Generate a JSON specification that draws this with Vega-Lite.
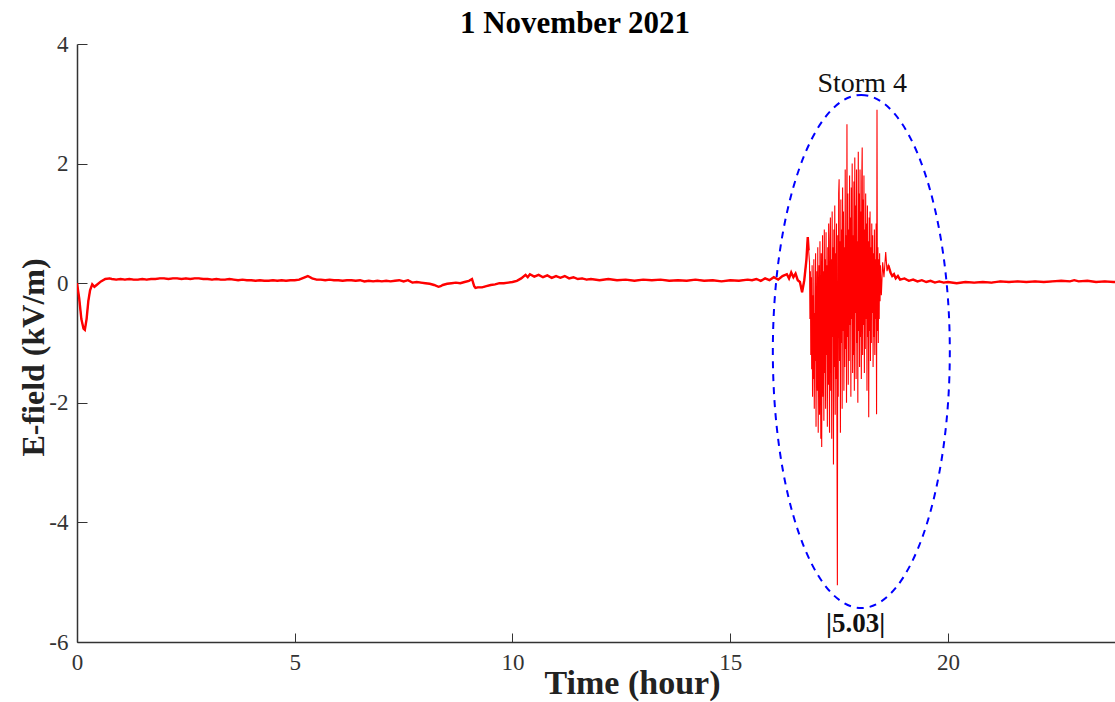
{
"$schema": "https://vega.github.io/schema/vega-lite/v6.json",
"width": 1038, "height": 598,
"autosize": "none",
"padding": {"left": 77, "top": 44, "right": 0, "bottom": 60},
"config": {"view": {"stroke": null}, "font": "Liberation Serif"},
"datasets": {
"sig": [
{"t":0,"v":0},{"t":0.05,"v":-0.25},{"t":0.1,"v":-0.6},{"t":0.15,"v":-0.76},{"t":0.18,"v":-0.78},{"t":0.22,"v":-0.6},{"t":0.26,"v":-0.3},{"t":0.3,"v":-0.12},{"t":0.35,"v":-0.02},{"t":0.4,"v":-0.06},{"t":0.45,"v":-0.03},{"t":0.55,"v":0.03},{"t":0.65,"v":0.07},{"t":0.75,"v":0.08},
{"t":0.8,"v":0.07},{"t":0.9,"v":0.06},{"t":1.0,"v":0.07},{"t":1.1,"v":0.06},{"t":1.2,"v":0.07},{"t":1.3,"v":0.06},{"t":1.4,"v":0.06},{"t":1.5,"v":0.07},{"t":1.6,"v":0.06},{"t":1.7,"v":0.07},{"t":1.8,"v":0.07},{"t":1.9,"v":0.08},{"t":2.0,"v":0.08},{"t":2.1,"v":0.07},{"t":2.2,"v":0.08},{"t":2.3,"v":0.08},{"t":2.4,"v":0.07},{"t":2.5,"v":0.08},{"t":2.6,"v":0.07},{"t":2.7,"v":0.08},{"t":2.8,"v":0.08},{"t":2.9,"v":0.07},{"t":3.0,"v":0.07},{"t":3.1,"v":0.06},{"t":3.2,"v":0.07},{"t":3.3,"v":0.06},{"t":3.4,"v":0.06},{"t":3.5,"v":0.07},{"t":3.6,"v":0.06},{"t":3.7,"v":0.05},{"t":3.8,"v":0.06},{"t":3.9,"v":0.05},{"t":4.0,"v":0.05},{"t":4.1,"v":0.04},{"t":4.2,"v":0.05},{"t":4.3,"v":0.04},{"t":4.4,"v":0.04},{"t":4.5,"v":0.05},{"t":4.6,"v":0.04},{"t":4.7,"v":0.05},{"t":4.8,"v":0.04},{"t":4.9,"v":0.05},{"t":5.0,"v":0.05},{"t":5.1,"v":0.06},{"t":5.2,"v":0.09},{"t":5.3,"v":0.12},{"t":5.4,"v":0.08},{"t":5.5,"v":0.06},{"t":5.6,"v":0.06},{"t":5.7,"v":0.05},{"t":5.8,"v":0.06},{"t":5.9,"v":0.05},{"t":6.0,"v":0.05},{"t":6.1,"v":0.04},{"t":6.2,"v":0.05},{"t":6.3,"v":0.05},{"t":6.4,"v":0.04},{"t":6.5,"v":0.05},{"t":6.6,"v":0.03},{"t":6.7,"v":0.04},{"t":6.8,"v":0.03},{"t":6.9,"v":0.04},{"t":7.0,"v":0.03},{"t":7.1,"v":0.04},{"t":7.2,"v":0.03},{"t":7.3,"v":0.04},{"t":7.4,"v":0.05},{"t":7.5,"v":0.03},{"t":7.6,"v":0.05},{"t":7.7,"v":0.01},{"t":7.8,"v":0.02},{"t":7.9,"v":0.01},{"t":8.0,"v":0.0},{"t":8.1,"v":-0.01},{"t":8.2,"v":-0.03},{"t":8.3,"v":-0.06},{"t":8.35,"v":-0.05},{"t":8.4,"v":-0.03},{"t":8.5,"v":-0.01},{"t":8.6,"v":0.0},{"t":8.7,"v":0.01},{"t":8.8,"v":0.0},{"t":8.9,"v":0.02},{"t":9.0,"v":0.04},{"t":9.07,"v":0.07},{"t":9.12,"v":-0.05},{"t":9.15,"v":-0.08},{"t":9.2,"v":-0.07},{"t":9.3,"v":-0.07},{"t":9.4,"v":-0.05},{"t":9.5,"v":-0.03},{"t":9.6,"v":-0.02},{"t":9.7,"v":0.0},{"t":9.8,"v":0.0},{"t":9.9,"v":0.01},{"t":10.0,"v":0.02},{"t":10.1,"v":0.04},{"t":10.2,"v":0.08},{"t":10.3,"v":0.14},{"t":10.35,"v":0.1},{"t":10.4,"v":0.15},{"t":10.5,"v":0.11},{"t":10.6,"v":0.14},{"t":10.7,"v":0.1},{"t":10.8,"v":0.13},{"t":10.9,"v":0.09},{"t":11.0,"v":0.12},{"t":11.1,"v":0.09},{"t":11.2,"v":0.12},{"t":11.3,"v":0.08},{"t":11.4,"v":0.1},{"t":11.5,"v":0.07},{"t":11.6,"v":0.08},{"t":11.7,"v":0.06},{"t":11.8,"v":0.07},
{"t":12.0,"v":0.05},{"t":12.2,"v":0.07},{"t":12.4,"v":0.05},{"t":12.6,"v":0.06},{"t":12.8,"v":0.04},{"t":13.0,"v":0.06},{"t":13.2,"v":0.05},{"t":13.4,"v":0.06},{"t":13.6,"v":0.04},{"t":13.8,"v":0.05},{"t":14.0,"v":0.04},{"t":14.2,"v":0.06},{"t":14.4,"v":0.04},{"t":14.6,"v":0.05},{"t":14.8,"v":0.03},{"t":15.0,"v":0.05},{"t":15.2,"v":0.04},{"t":15.4,"v":0.06},
{"t":15.5,"v":0.05},{"t":15.6,"v":0.07},{"t":15.7,"v":0.04},{"t":15.8,"v":0.08},{"t":15.9,"v":0.05},{"t":16.0,"v":0.1},{"t":16.1,"v":0.06},{"t":16.2,"v":0.12},{"t":16.3,"v":0.15},{"t":16.35,"v":0.08},{"t":16.4,"v":0.18},{"t":16.45,"v":0.1},{"t":16.5,"v":0.16},{"t":16.55,"v":0.05},{"t":16.6,"v":0.02},{"t":16.65,"v":-0.15},{"t":16.7,"v":0.05},{"t":16.75,"v":0.4},{"t":16.78,"v":0.77},{"t":16.8,"v":0.55},
{"t":16.82,"v":0.35},{"t":16.83,"v":-0.6},{"t":16.84,"v":0.2},{"t":16.85,"v":-1.2},{"t":16.86,"v":0.1},{"t":16.87,"v":-1.44},{"t":16.88,"v":0.3},{"t":16.89,"v":-1.9},{"t":16.9,"v":-0.2},{"t":16.91,"v":-1.6},{"t":16.92,"v":0.4},{"t":16.93,"v":-2.1},{"t":16.94,"v":-0.5},{"t":16.95,"v":-1.3},{"t":16.96,"v":0.5},{"t":16.97,"v":-2.4},{"t":16.98,"v":-0.8},{"t":16.99,"v":0.2},{"t":17.0,"v":-1.8},{"t":17.01,"v":0.6},{"t":17.02,"v":-2.5},{"t":17.03,"v":-0.4},{"t":17.04,"v":0.3},{"t":17.05,"v":-2.2},{"t":17.06,"v":0.7},{"t":17.07,"v":-1.1},{"t":17.08,"v":-2.6},{"t":17.09,"v":0.5},{"t":17.1,"v":-2.74},{"t":17.11,"v":-0.3},{"t":17.12,"v":0.8},{"t":17.13,"v":-1.9},{"t":17.14,"v":0.2},{"t":17.15,"v":-2.3},{"t":17.16,"v":0.9},{"t":17.17,"v":-1.5},{"t":17.18,"v":0.4},{"t":17.19,"v":-2.1},{"t":17.2,"v":0.85},{"t":17.21,"v":-1.2},{"t":17.22,"v":0.3},{"t":17.23,"v":-2.4},{"t":17.24,"v":0.6},{"t":17.25,"v":-1.7},{"t":17.26,"v":1.0},{"t":17.27,"v":-1.0},{"t":17.28,"v":-2.5},{"t":17.29,"v":0.7},{"t":17.3,"v":1.1},{"t":17.31,"v":-1.8},{"t":17.32,"v":0.4},{"t":17.33,"v":-2.6},{"t":17.34,"v":1.2},{"t":17.35,"v":-0.9},{"t":17.36,"v":0.6},{"t":17.37,"v":-3.03},{"t":17.38,"v":0.9},{"t":17.39,"v":-1.4},{"t":17.4,"v":1.3},{"t":17.41,"v":-2.2},{"t":17.42,"v":0.5},{"t":17.43,"v":-1.6},{"t":17.44,"v":1.0},{"t":17.45,"v":-2.4},{"t":17.46,"v":-5.05},{"t":17.47,"v":0.8},{"t":17.48,"v":-1.9},{"t":17.49,"v":1.5},{"t":17.5,"v":1.74},{"t":17.51,"v":-1.3},{"t":17.52,"v":0.7},{"t":17.53,"v":-2.5},{"t":17.54,"v":1.4},{"t":17.55,"v":-1.0},{"t":17.56,"v":0.9},{"t":17.57,"v":-2.1},{"t":17.58,"v":1.6},{"t":17.59,"v":-0.8},{"t":17.6,"v":1.2},{"t":17.61,"v":-1.8},{"t":17.62,"v":0.6},{"t":17.63,"v":-1.4},{"t":17.64,"v":1.9},{"t":17.65,"v":-1.1},{"t":17.66,"v":0.8},{"t":17.67,"v":-2.0},{"t":17.68,"v":2.66},{"t":17.69,"v":-0.9},{"t":17.7,"v":1.5},{"t":17.71,"v":-1.7},{"t":17.72,"v":0.9},{"t":17.73,"v":-1.3},{"t":17.74,"v":1.8},{"t":17.75,"v":-0.7},{"t":17.76,"v":1.1},{"t":17.77,"v":-1.9},{"t":17.78,"v":1.6},{"t":17.79,"v":-0.6},{"t":17.8,"v":2.0},{"t":17.81,"v":-1.5},{"t":17.82,"v":0.8},{"t":17.83,"v":-1.2},{"t":17.84,"v":1.7},{"t":17.85,"v":-1.8},{"t":17.86,"v":2.1},{"t":17.87,"v":-0.5},{"t":17.88,"v":1.3},{"t":17.89,"v":-1.6},{"t":17.9,"v":1.9},{"t":17.91,"v":-1.0},{"t":17.92,"v":0.7},{"t":17.93,"v":-2.0},{"t":17.94,"v":2.2},{"t":17.95,"v":-0.8},{"t":17.96,"v":1.5},{"t":17.97,"v":-1.4},{"t":17.98,"v":1.9},{"t":17.99,"v":-0.9},{"t":18.0,"v":1.2},{"t":18.01,"v":-1.6},{"t":18.02,"v":1.7},{"t":18.03,"v":2.27},{"t":18.04,"v":-1.2},{"t":18.05,"v":1.4},{"t":18.06,"v":-0.7},{"t":18.07,"v":1.8},{"t":18.08,"v":-1.5},{"t":18.09,"v":0.9},{"t":18.1,"v":-1.1},{"t":18.11,"v":1.5},{"t":18.12,"v":-0.6},{"t":18.13,"v":1.0},{"t":18.14,"v":-1.8},{"t":18.15,"v":1.3},{"t":18.16,"v":-0.9},{"t":18.17,"v":0.7},{"t":18.18,"v":-2.24},{"t":18.19,"v":1.1},{"t":18.2,"v":-0.8},{"t":18.21,"v":1.2},{"t":18.22,"v":-1.3},{"t":18.23,"v":0.6},{"t":18.24,"v":-1.0},{"t":18.25,"v":1.0},{"t":18.26,"v":-0.5},{"t":18.27,"v":0.8},{"t":18.28,"v":-1.4},{"t":18.29,"v":0.5},{"t":18.3,"v":-0.9},{"t":18.31,"v":0.9},{"t":18.32,"v":-1.2},{"t":18.33,"v":0.4},{"t":18.34,"v":-0.6},{"t":18.35,"v":1.0},{"t":18.36,"v":-2.19},{"t":18.37,"v":2.9},{"t":18.38,"v":-0.8},{"t":18.39,"v":0.6},{"t":18.4,"v":-1.0},{"t":18.41,"v":0.4},{"t":18.42,"v":-0.6},{"t":18.43,"v":0.5},{"t":18.44,"v":-0.3},{"t":18.45,"v":0.3},{"t":18.47,"v":-0.2},{"t":18.5,"v":0.35},{"t":18.53,"v":0.1},{"t":18.57,"v":0.52},{"t":18.6,"v":0.2},{"t":18.63,"v":0.3},
{"t":18.68,"v":0.18},{"t":18.72,"v":0.12},{"t":18.76,"v":0.15},{"t":18.8,"v":0.08},{"t":18.85,"v":0.12},{"t":18.9,"v":0.06},{"t":19.0,"v":0.08},{"t":19.1,"v":0.04},{"t":19.2,"v":0.06},{"t":19.3,"v":0.03},{"t":19.4,"v":0.05},{"t":19.5,"v":0.02},{"t":19.6,"v":0.04},{"t":19.7,"v":0.01},{"t":19.8,"v":0.03},{"t":19.9,"v":0.01},{"t":20.0,"v":0.02},{"t":20.2,"v":0.0},{"t":20.4,"v":0.02},{"t":20.6,"v":0.01},{"t":20.8,"v":0.02},{"t":21.0,"v":0.01},{"t":21.2,"v":0.03},{"t":21.4,"v":0.02},{"t":21.6,"v":0.03},{"t":21.8,"v":0.02},{"t":22.0,"v":0.03},{"t":22.2,"v":0.02},{"t":22.4,"v":0.03},{"t":22.6,"v":0.04},{"t":22.8,"v":0.03},{"t":22.9,"v":0.05},{"t":23.0,"v":0.03},{"t":23.2,"v":0.04},{"t":23.4,"v":0.02},{"t":23.6,"v":0.03},{"t":23.8,"v":0.02},{"t":23.84,"v":0.02}
],
"ell": [{"t":18.01,"v":-1.142}]
},
"layer": [
{
"data": {"name": "sig"},
"mark": {"type": "line", "color": "#ff0000", "strokeWidth": 1.1, "clip": true},
"encoding": {
"x": {"field": "t", "type": "quantitative", "scale": {"domain": [0, 23.835], "nice": false, "zero": false},
"axis": {"values": [0,5,10,15,20], "grid": false, "title": "Time (hour)", "domainColor": "#333", "domainWidth": 1.5, "tickColor": "#333", "tickSize": -9, "tickWidth": 1,
"labelFont": "Liberation Serif", "labelFontSize": 23, "labelColor": "#333", "labelPadding": 18, "labelFlush": false, "labelExpr": "'' + datum.value",
"titleFont": "Liberation Serif", "titleFontSize": 34, "titleFontWeight": "bold", "titleColor": "#222", "titleX": 555, "titleY": 51, "titleBaseline": "alphabetic", "titleAlign": "center", "titleAnchor": null}},
"y": {"field": "v", "type": "quantitative", "scale": {"domain": [-6, 4], "nice": false, "zero": false},
"axis": {"values": [-6,-4,-2,0,2,4], "grid": false, "title": "E-field (kV/m)", "domainColor": "#333", "domainWidth": 1.5, "tickColor": "#333", "tickSize": -10, "tickWidth": 1,
"labelFont": "Liberation Serif", "labelFontSize": 23, "labelColor": "#333", "labelPadding": 19, "labelFlush": false, "labelExpr": "'' + datum.value",
"titleFont": "Liberation Serif", "titleFontSize": 32, "titleFontWeight": "bold", "titleColor": "#222", "titleX": -34, "titleY": 313, "titleBaseline": "alphabetic", "titleAlign": "center", "titleAngle": -90, "titleAnchor": null}}
}
},
{
"data": {"name": "sig"},
"transform": [{"filter": "datum.t <= 16.8"}],
"mark": {"type": "line", "color": "#ff0000", "strokeWidth": 2.4, "clip": true},
"encoding": {"x": {"field": "t", "type": "quantitative"}, "y": {"field": "v", "type": "quantitative"}}
},
{
"data": {"name": "sig"},
"transform": [{"filter": "datum.t >= 18.63"}],
"mark": {"type": "line", "color": "#ff0000", "strokeWidth": 2.4, "clip": true},
"encoding": {"x": {"field": "t", "type": "quantitative"}, "y": {"field": "v", "type": "quantitative"}}
},
{
"mark": {"type": "rule", "color": "#333", "strokeWidth": 1.5},
"encoding": {"y": {"datum": 4}}
},
{
"data": {"name": "ell"},
"mark": {"type": "point", "shape": "M 0 -1 A 0.345 1 0 1 1 0 1 A 0.345 1 0 1 1 0 -1 Z", "size": 263169, "filled": false, "stroke": "#0000ff", "strokeWidth": 2, "strokeDash": [7, 6], "opacity": 1},
"encoding": {"x": {"field": "t", "type": "quantitative"}, "y": {"field": "v", "type": "quantitative"}}
},
{
"data": {"values": [{"t":18.03,"v":3.2,"label":"Storm 4"}]},
"mark": {"type": "text", "font": "Liberation Serif", "fontSize": 28, "color": "#111", "baseline": "alphabetic", "align": "center"},
"encoding": {"x": {"field": "t", "type": "quantitative"}, "y": {"field": "v", "type": "quantitative"}, "text": {"field": "label"}}
},
{
"data": {"values": [{"t":17.88,"v":-5.833,"label":"|5.03|"}]},
"mark": {"type": "text", "font": "Liberation Serif", "fontSize": 27, "fontWeight": "bold", "color": "#111", "baseline": "alphabetic", "align": "center"},
"encoding": {"x": {"field": "t", "type": "quantitative"}, "y": {"field": "v", "type": "quantitative"}, "text": {"field": "label"}}
},
{
"data": {"values": [{"t":11.435,"v":4.184,"label":"1 November 2021"}]},
"mark": {"type": "text", "font": "Liberation Serif", "fontSize": 31, "fontWeight": "bold", "color": "#000", "baseline": "alphabetic", "align": "center"},
"encoding": {"x": {"field": "t", "type": "quantitative"}, "y": {"field": "v", "type": "quantitative"}, "text": {"field": "label"}}
}
]
}
